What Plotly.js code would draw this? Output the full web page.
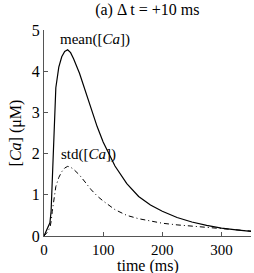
<!DOCTYPE html>
<html><head><meta charset="utf-8">
<script src="https://cdn.plot.ly/plotly-3.0.1.min.js"></script>
<style>html,body{margin:0;padding:0;background:#fff}#chart{width:254px;height:273px}</style>
</head><body><div id="chart"></div>
<script>
const time = [0,5,10,12,14,16,18,20,25,30,35,40,45,50,60,70,80,90,100,120,140,160,180,200,225,250,275,300,325,350];
const meanCa = [0,0.15,0.32,0.6,1.4,2.5,3.2,3.6,4.1,4.35,4.48,4.52,4.45,4.3,3.95,3.5,3.05,2.65,2.28,1.7,1.27,0.96,0.75,0.6,0.45,0.34,0.26,0.19,0.15,0.11];
const stdCa = [0,0.08,0.2,0.35,0.6,0.85,1.05,1.2,1.42,1.56,1.65,1.69,1.67,1.62,1.48,1.3,1.12,0.97,0.85,0.64,0.5,0.42,0.36,0.31,0.27,0.24,0.21,0.18,0.15,0.12];
const xTicks = [0,100,200,300];
const yTicks = [0,1,2,3,4,5];
const F = "Liberation Serif, DejaVu Serif, serif";
const data = [
  {x: time, y: meanCa, mode: 'lines', line: {color: '#000', width: 1.2}, hoverinfo: 'skip'},
  {x: time, y: stdCa, mode: 'lines', line: {color: '#000', width: 1, dash: '5px,3px,1px,3px'}, hoverinfo: 'skip'}
];
const layout = {
  width: 254, height: 273,
  margin: {l: 43.5, r: 3, t: 30, b: 36.5},
  paper_bgcolor: '#fff', plot_bgcolor: '#fff',
  showlegend: false,
  font: {family: F, size: 14, color: '#000'},
  title: {text: '(a) Δ t = +10 ms', font: {family: F, size: 16, color: '#000'}, x: 0.58, xanchor: 'center', y: 0.985, yanchor: 'top'},
  xaxis: {range: [0, 350], tickvals: xTicks, ticktext: xTicks.map(String), ticks: 'inside', ticklen: 4, tickcolor: '#555',
    showline: true, linecolor: '#555', linewidth: 1, showgrid: false, zeroline: false,
    tickfont: {family: F, size: 15}},
  yaxis: {range: [0, 5], tickvals: yTicks, ticktext: yTicks.map(String), ticks: 'inside', ticklen: 4, tickcolor: '#555',
    showline: true, linecolor: '#555', linewidth: 1, showgrid: false, zeroline: false,
    tickfont: {family: F, size: 16}, title: {text: '[<i>Ca</i>] (μM)', font: {family: F, size: 16}, standoff: 6}},
  annotations: [
    {x: 0.5, y: -0.148, xref: 'paper', yref: 'paper', text: 'time (ms)', showarrow: false, xanchor: 'center', yanchor: 'middle', font: {family: F, size: 16}},
    {x: 23, y: 4.77, xref: 'x', yref: 'y', text: 'mean([<i>Ca</i>])', showarrow: false, xanchor: 'left', yanchor: 'middle', font: {family: F, size: 15}},
    {x: 25, y: 1.97, xref: 'x', yref: 'y', text: 'std([<i>Ca</i>])', showarrow: false, xanchor: 'left', yanchor: 'middle', font: {family: F, size: 15}}
  ]
};
Plotly.newPlot('chart', data, layout, {displayModeBar: false, staticPlot: true});
</script></body></html>
